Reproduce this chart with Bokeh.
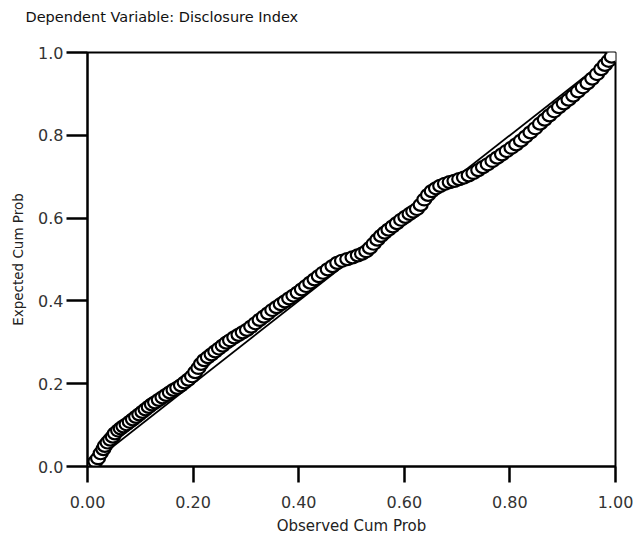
from bokeh.plotting import figure
from bokeh.embed import file_html
from bokeh.resources import INLINE
from bokeh.models import Range1d, FixedTicker, CustomJSTickFormatter, Title

title_text = "Dependent Variable: Disclosure Index"
x_label = "Observed Cum Prob"
y_label = "Expected Cum Prob"
x_ticks = [0.0, 0.2, 0.4, 0.6, 0.8, 1.0]
y_ticks = [0.0, 0.2, 0.4, 0.6, 0.8, 1.0]
ref_line = [0.0, 1.0]

observed = [0.008, 0.015, 0.02, 0.025, 0.03, 0.033, 0.038, 0.043, 0.048, 0.052,
            0.058, 0.063, 0.068, 0.074, 0.08, 0.086, 0.092, 0.098,
            0.104, 0.11, 0.116, 0.122, 0.128, 0.135, 0.142, 0.149, 0.156, 0.163,
            0.17, 0.177, 0.184, 0.191, 0.198,
            0.204, 0.21, 0.215, 0.221, 0.228, 0.235, 0.242, 0.249, 0.256, 0.263,
            0.27, 0.278, 0.286, 0.294,
            0.302, 0.31, 0.318, 0.326, 0.334, 0.342, 0.35, 0.358, 0.366, 0.374,
            0.382, 0.39, 0.398,
            0.406, 0.414, 0.422, 0.43, 0.438, 0.446, 0.455, 0.464, 0.473, 0.482,
            0.492, 0.502,
            0.512, 0.52, 0.528, 0.535, 0.542, 0.549, 0.556, 0.563, 0.57, 0.578,
            0.586, 0.594,
            0.602, 0.61, 0.617, 0.624, 0.631, 0.638, 0.645, 0.652, 0.66, 0.668,
            0.677, 0.686, 0.695,
            0.704, 0.713, 0.722, 0.731, 0.74, 0.749, 0.758, 0.767, 0.776, 0.785,
            0.794,
            0.803, 0.812, 0.821, 0.83, 0.839, 0.848, 0.857, 0.866, 0.875, 0.884,
            0.893,
            0.902, 0.911, 0.92, 0.929, 0.938, 0.947, 0.956, 0.965, 0.973, 0.98,
            0.987, 0.993]
expected = [0.004, 0.012, 0.02, 0.032, 0.042, 0.05, 0.058, 0.065, 0.072, 0.08,
            0.087, 0.092, 0.097, 0.102, 0.108, 0.114, 0.12, 0.126,
            0.132, 0.138, 0.144, 0.15, 0.155, 0.161, 0.167, 0.173, 0.179, 0.185,
            0.19, 0.196, 0.203, 0.21, 0.218,
            0.228, 0.238, 0.248, 0.257, 0.264, 0.271, 0.278, 0.285, 0.292, 0.299,
            0.305, 0.312, 0.318, 0.324,
            0.33, 0.338, 0.346, 0.354, 0.362, 0.37, 0.378, 0.385, 0.392, 0.399,
            0.406, 0.413, 0.42,
            0.428, 0.436, 0.444, 0.452, 0.46, 0.468, 0.476, 0.484, 0.492, 0.497,
            0.501, 0.505,
            0.51, 0.514, 0.52, 0.528, 0.538, 0.548, 0.557, 0.565, 0.572, 0.58,
            0.588, 0.596,
            0.603, 0.61, 0.616, 0.622, 0.632, 0.645, 0.656, 0.665, 0.672, 0.678,
            0.683, 0.687, 0.69,
            0.694, 0.698, 0.703, 0.709, 0.716, 0.723, 0.73, 0.738, 0.746, 0.754,
            0.762,
            0.77, 0.778, 0.787, 0.797, 0.807, 0.817, 0.828, 0.838, 0.848, 0.858,
            0.868,
            0.877, 0.886, 0.896, 0.906, 0.916, 0.926, 0.937, 0.948, 0.96, 0.97,
            0.98, 0.99]

FONT = "DejaVu Sans"

p = figure(width=635, height=537, output_backend="svg", toolbar_location=None,
           x_range=Range1d(0, 1), y_range=Range1d(0, 1),
           min_border_left=87, min_border_right=20, min_border_top=52, min_border_bottom=71)

# spacer panel between the frame and the title
p.add_layout(Title(text=" ", text_font=FONT, text_font_size="14.5px", standoff=10), "above")

p.title.text = title_text
p.title.text_font = FONT
p.title.text_font_size = "14.5px"
p.title.text_font_style = "normal"
p.title.text_color = "#111111"
p.title.align = "left"
p.title.offset = -62
p.title.standoff = 0

p.xgrid.visible = False
p.ygrid.visible = False
p.outline_line_color = "black"
p.outline_line_width = 2
p.outline_line_alpha = 1.0

p.line(ref_line, ref_line, line_color="black", line_width=1.8)
p.ellipse(x=observed, y=expected, width=14, height=12,
          width_units="screen", height_units="screen",
          fill_color="white", line_color="black", line_width=2.2)

p.xaxis.ticker = FixedTicker(ticks=x_ticks)
p.yaxis.ticker = FixedTicker(ticks=y_ticks)
p.xaxis.formatter = CustomJSTickFormatter(code="return tick.toFixed(2);")
p.yaxis.formatter = CustomJSTickFormatter(code="return tick.toFixed(1);")
for ax in (p.xaxis, p.yaxis):
    ax.axis_line_width = 2
    ax.major_tick_line_width = 2.5
    ax.major_tick_in = 0
    ax.minor_tick_line_color = None
    ax.major_label_text_font = FONT
    ax.major_label_text_font_size = "16px"
    ax.major_label_text_color = "#333333"
    ax.axis_label_text_font = FONT
    ax.axis_label_text_font_style = "normal"
    ax.axis_label_text_color = "#222222"
p.xaxis.major_tick_out = 16
p.yaxis.major_tick_out = 21
p.xaxis.major_label_standoff = 13
p.yaxis.major_label_standoff = 3
p.xaxis.axis_label = x_label
p.xaxis.axis_label_text_font_size = "15px"
p.xaxis.axis_label_standoff = 6
p.yaxis.axis_label = y_label
p.yaxis.axis_label_text_font_size = "13.5px"
p.yaxis.axis_label_standoff = 9

open("out.html", "w").write(file_html(p, INLINE))
